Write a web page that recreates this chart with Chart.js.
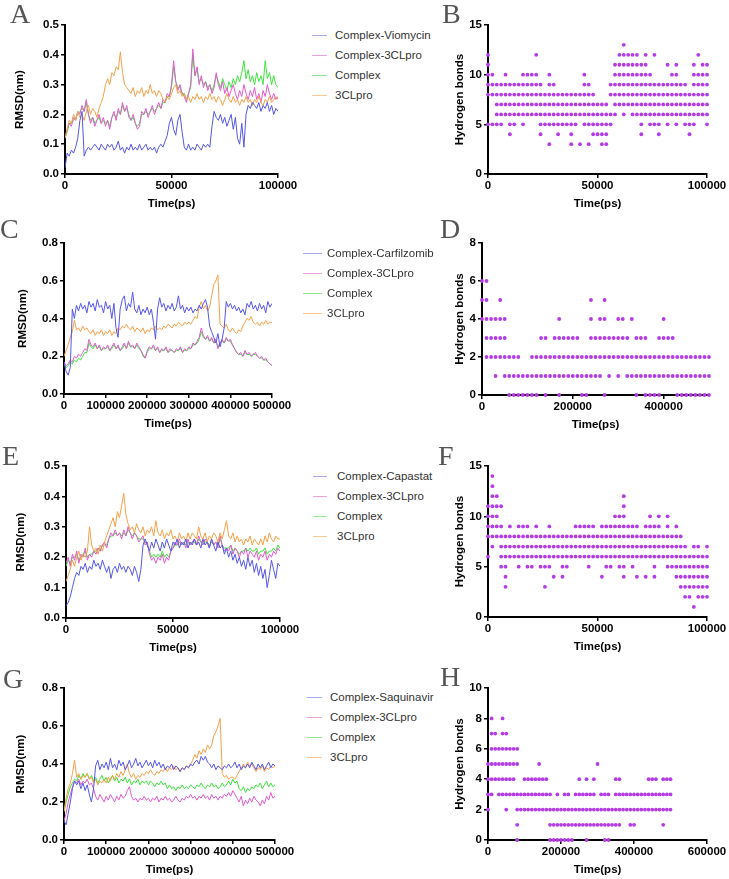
<!DOCTYPE html>
<html>
<head>
<meta charset="utf-8">
<script src="https://cdn.jsdelivr.net/npm/chart.js@4.4.1/dist/chart.umd.min.js"></script>
<style>
  body { margin: 0; background: #fff; width: 729px; height: 879px; position: relative; overflow: hidden;
         font-family: 'Liberation Sans', Arial, sans-serif; }
  canvas { position: absolute; }
  .letter { position: absolute; font-family: 'Liberation Serif', 'Times New Roman', serif; font-size: 28px;
            color: #555; line-height: 28px; }
  .leg { position: absolute; font-size: 11.5px; color: #333; line-height: 14px; white-space: nowrap; }
  .legline { position: absolute; height: 1px; }
</style>
</head>
<body>
<script>
// series names per RMSD panel
const namesA = ['Complex-Viomycin', 'Complex-3CLpro', 'Complex', '3CLpro'];
const namesC = ['Complex-Carfilzomib', 'Complex-3CLpro', 'Complex', '3CLpro'];
const namesE = ['Complex-Capastat', 'Complex-3CLpro', 'Complex', '3CLpro'];
const namesG = ['Complex-Saquinavir', 'Complex-3CLpro', 'Complex', '3CLpro'];

// RMSD (nm), panel A and E sampled every 1000 ps, panel C and G every 5000 ps
const aLig = [0.02,0.07,0.06,0.08,0.07,0.09,0.12,0.18,0.21,0.06,
  0.08,0.09,0.08,0.09,0.1,0.09,0.08,0.1,0.09,0.08,
  0.1,0.09,0.1,0.08,0.09,0.11,0.08,0.09,0.07,0.09,
  0.08,0.1,0.08,0.09,0.08,0.1,0.08,0.09,0.1,0.08,
  0.09,0.08,0.09,0.07,0.09,0.1,0.09,0.11,0.13,0.17,
  0.19,0.15,0.13,0.18,0.2,0.14,0.09,0.08,0.1,0.08,
  0.09,0.08,0.1,0.09,0.08,0.1,0.09,0.1,0.09,0.16,
  0.21,0.19,0.18,0.2,0.17,0.19,0.16,0.18,0.2,0.15,
  0.19,0.12,0.1,0.17,0.09,0.2,0.23,0.22,0.24,0.23,
  0.22,0.24,0.21,0.23,0.22,0.24,0.21,0.23,0.2,0.22,
  0.21];
const aCx3 = [0.12,0.15,0.17,0.16,0.19,0.18,0.21,0.2,0.23,0.21,
  0.25,0.2,0.17,0.19,0.16,0.18,0.2,0.17,0.19,0.16,
  0.18,0.15,0.19,0.21,0.18,0.22,0.2,0.24,0.21,0.23,
  0.19,0.18,0.2,0.17,0.15,0.16,0.21,0.2,0.22,0.19,
  0.21,0.23,0.2,0.22,0.24,0.22,0.25,0.24,0.27,0.26,
  0.3,0.38,0.31,0.28,0.3,0.27,0.26,0.24,0.27,0.3,
  0.42,0.33,0.36,0.3,0.33,0.29,0.31,0.28,0.3,0.27,
  0.29,0.34,0.3,0.28,0.31,0.27,0.29,0.26,0.28,0.3,
  0.27,0.25,0.28,0.26,0.3,0.27,0.25,0.28,0.26,0.29,
  0.25,0.27,0.24,0.28,0.26,0.3,0.27,0.25,0.27,0.25,
  0.26];
const aCx = [0.12,0.14,0.17,0.17,0.18,0.19,0.2,0.21,0.22,0.21,
  0.24,0.2,0.18,0.19,0.17,0.18,0.19,0.17,0.18,0.17,
  0.18,0.16,0.19,0.2,0.19,0.21,0.2,0.23,0.21,0.22,
  0.2,0.18,0.19,0.17,0.16,0.17,0.2,0.2,0.21,0.2,
  0.21,0.22,0.21,0.22,0.23,0.22,0.24,0.24,0.26,0.26,
  0.29,0.36,0.31,0.29,0.29,0.27,0.27,0.25,0.27,0.29,
  0.4,0.33,0.35,0.31,0.32,0.3,0.31,0.29,0.3,0.28,
  0.3,0.33,0.31,0.29,0.32,0.3,0.28,0.31,0.29,0.32,
  0.3,0.33,0.31,0.34,0.38,0.32,0.35,0.31,0.33,0.3,
  0.34,0.31,0.33,0.3,0.38,0.32,0.34,0.3,0.33,0.3,
  0.29];
const aPro = [0.12,0.15,0.18,0.17,0.2,0.18,0.21,0.19,0.2,0.18,
  0.21,0.23,0.2,0.22,0.21,0.19,0.22,0.24,0.26,0.3,
  0.32,0.3,0.34,0.33,0.36,0.35,0.41,0.34,0.3,0.29,
  0.28,0.27,0.29,0.26,0.28,0.27,0.29,0.26,0.28,0.27,
  0.3,0.27,0.28,0.26,0.28,0.27,0.25,0.24,0.26,0.25,
  0.27,0.29,0.3,0.27,0.28,0.26,0.27,0.25,0.26,0.24,
  0.26,0.25,0.27,0.25,0.26,0.24,0.26,0.25,0.27,0.25,
  0.26,0.24,0.26,0.25,0.23,0.25,0.27,0.25,0.24,0.26,
  0.24,0.25,0.23,0.25,0.24,0.26,0.24,0.25,0.23,0.25,
  0.24,0.26,0.24,0.23,0.25,0.24,0.26,0.24,0.25,0.26,
  0.25];

const cLig = [0.17,0.12,0.1,0.14,0.45,0.4,0.47,0.44,0.48,0.45,
  0.47,0.43,0.49,0.46,0.48,0.44,0.5,0.46,0.47,0.43,
  0.49,0.45,0.47,0.4,0.48,0.35,0.3,0.45,0.5,0.52,
  0.44,0.48,0.46,0.54,0.45,0.43,0.47,0.42,0.45,0.43,
  0.46,0.42,0.45,0.38,0.29,0.45,0.51,0.46,0.48,0.44,
  0.47,0.45,0.48,0.44,0.46,0.52,0.45,0.47,0.43,0.46,
  0.44,0.46,0.43,0.45,0.44,0.47,0.45,0.48,0.5,0.46,
  0.36,0.33,0.3,0.27,0.32,0.25,0.29,0.35,0.49,0.46,
  0.48,0.45,0.47,0.44,0.46,0.43,0.45,0.42,0.48,0.46,
  0.49,0.45,0.47,0.44,0.48,0.45,0.47,0.43,0.49,0.46,
  0.48];
const cCx3 = [0.17,0.15,0.16,0.18,0.17,0.2,0.19,0.21,0.2,0.22,
  0.24,0.23,0.29,0.26,0.25,0.27,0.24,0.26,0.23,0.25,
  0.24,0.26,0.23,0.25,0.27,0.24,0.26,0.23,0.25,0.27,
  0.24,0.28,0.25,0.26,0.24,0.27,0.25,0.23,0.21,0.19,
  0.23,0.25,0.24,0.26,0.23,0.25,0.22,0.24,0.23,0.25,
  0.22,0.24,0.23,0.22,0.24,0.23,0.25,0.22,0.24,0.23,
  0.25,0.24,0.27,0.26,0.28,0.3,0.35,0.31,0.29,0.31,
  0.28,0.3,0.27,0.29,0.24,0.27,0.29,0.27,0.3,0.28,
  0.29,0.26,0.24,0.22,0.21,0.22,0.2,0.23,0.21,0.22,
  0.2,0.21,0.22,0.2,0.19,0.2,0.18,0.19,0.17,0.16,
  0.15];
const cCx = [0.16,0.14,0.15,0.17,0.16,0.18,0.17,0.19,0.18,0.2,
  0.22,0.22,0.27,0.25,0.24,0.26,0.24,0.25,0.23,0.24,
  0.24,0.25,0.23,0.24,0.26,0.24,0.25,0.23,0.24,0.26,
  0.24,0.27,0.25,0.25,0.24,0.26,0.24,0.23,0.2,0.19,
  0.22,0.24,0.24,0.25,0.23,0.24,0.22,0.23,0.23,0.24,
  0.22,0.23,0.23,0.22,0.23,0.23,0.24,0.22,0.23,0.23,
  0.24,0.24,0.26,0.26,0.27,0.29,0.33,0.3,0.29,0.3,
  0.28,0.29,0.27,0.28,0.25,0.27,0.28,0.27,0.29,0.28,
  0.28,0.26,0.24,0.22,0.21,0.21,0.2,0.22,0.21,0.21,
  0.2,0.21,0.21,0.2,0.19,0.19,0.18,0.18,0.17,0.16,
  0.15];
const cPro = [0.2,0.23,0.26,0.3,0.33,0.39,0.34,0.35,0.33,0.36,
  0.34,0.35,0.33,0.32,0.34,0.31,0.33,0.32,0.34,0.31,
  0.33,0.32,0.34,0.31,0.33,0.32,0.35,0.34,0.36,0.35,
  0.37,0.35,0.34,0.36,0.33,0.35,0.34,0.33,0.35,0.32,
  0.34,0.33,0.35,0.34,0.36,0.34,0.35,0.34,0.36,0.35,
  0.37,0.36,0.35,0.37,0.36,0.38,0.37,0.36,0.38,0.37,
  0.38,0.37,0.39,0.41,0.4,0.46,0.49,0.45,0.47,0.44,
  0.46,0.52,0.58,0.6,0.63,0.37,0.36,0.35,0.37,0.34,
  0.33,0.35,0.33,0.32,0.34,0.33,0.36,0.38,0.4,0.39,
  0.41,0.38,0.37,0.38,0.36,0.38,0.37,0.39,0.37,0.38,
  0.38];

const eLig = [0.04,0.05,0.07,0.1,0.13,0.15,0.14,0.17,0.16,0.18,
  0.15,0.17,0.16,0.19,0.17,0.18,0.16,0.19,0.17,0.15,
  0.17,0.13,0.16,0.17,0.15,0.18,0.16,0.17,0.15,0.17,
  0.16,0.14,0.17,0.15,0.12,0.16,0.24,0.26,0.24,0.22,
  0.25,0.23,0.26,0.24,0.22,0.25,0.23,0.26,0.24,0.22,
  0.25,0.24,0.26,0.23,0.25,0.24,0.26,0.23,0.25,0.24,
  0.26,0.24,0.25,0.23,0.26,0.24,0.25,0.23,0.26,0.24,
  0.22,0.25,0.23,0.24,0.21,0.23,0.2,0.22,0.19,0.21,
  0.18,0.2,0.17,0.19,0.16,0.2,0.17,0.19,0.15,0.18,
  0.14,0.17,0.13,0.16,0.1,0.14,0.19,0.16,0.13,0.18,
  0.17];
const eCx3 = [0.18,0.2,0.17,0.21,0.19,0.22,0.18,0.21,0.2,0.23,
  0.19,0.21,0.2,0.22,0.21,0.23,0.22,0.24,0.25,0.23,
  0.26,0.28,0.27,0.29,0.27,0.28,0.26,0.29,0.27,0.3,
  0.28,0.26,0.28,0.27,0.25,0.26,0.27,0.24,0.25,0.21,
  0.19,0.2,0.18,0.2,0.19,0.21,0.18,0.2,0.19,0.22,
  0.23,0.25,0.24,0.26,0.24,0.25,0.23,0.26,0.24,0.25,
  0.26,0.24,0.27,0.25,0.24,0.26,0.25,0.23,0.26,0.24,
  0.25,0.23,0.27,0.24,0.22,0.23,0.22,0.24,0.21,0.23,
  0.22,0.2,0.22,0.21,0.23,0.2,0.22,0.21,0.2,0.22,
  0.19,0.21,0.2,0.22,0.19,0.21,0.2,0.22,0.21,0.23,
  0.22];
const eCx = [0.17,0.19,0.18,0.2,0.2,0.21,0.19,0.2,0.21,0.22,
  0.2,0.21,0.21,0.22,0.22,0.23,0.22,0.24,0.24,0.24,
  0.26,0.27,0.27,0.28,0.27,0.28,0.27,0.28,0.27,0.29,
  0.28,0.27,0.28,0.27,0.26,0.26,0.26,0.25,0.24,0.22,
  0.2,0.21,0.2,0.21,0.2,0.22,0.2,0.21,0.2,0.22,
  0.23,0.24,0.24,0.25,0.24,0.25,0.24,0.25,0.24,0.25,
  0.25,0.24,0.26,0.25,0.25,0.25,0.25,0.24,0.25,0.24,
  0.25,0.24,0.26,0.24,0.23,0.23,0.23,0.24,0.22,0.23,
  0.22,0.21,0.22,0.22,0.23,0.22,0.23,0.22,0.22,0.23,
  0.21,0.22,0.22,0.23,0.21,0.22,0.22,0.23,0.22,0.24,
  0.23];
const ePro = [0.12,0.14,0.16,0.19,0.17,0.2,0.22,0.19,0.21,0.2,
  0.22,0.3,0.24,0.22,0.23,0.21,0.24,0.22,0.25,0.27,
  0.29,0.31,0.33,0.3,0.35,0.33,0.37,0.41,0.34,0.31,
  0.29,0.3,0.28,0.31,0.29,0.28,0.3,0.27,0.29,0.28,
  0.3,0.27,0.32,0.28,0.27,0.29,0.26,0.28,0.27,0.29,
  0.26,0.27,0.25,0.28,0.26,0.27,0.25,0.28,0.26,0.28,
  0.27,0.26,0.3,0.27,0.26,0.28,0.25,0.27,0.26,0.28,
  0.27,0.25,0.28,0.26,0.29,0.32,0.27,0.26,0.28,0.25,
  0.27,0.25,0.26,0.24,0.26,0.25,0.27,0.24,0.26,0.25,
  0.24,0.26,0.24,0.27,0.25,0.28,0.26,0.25,0.27,0.26,
  0.26];

const gLig = [0.1,0.08,0.14,0.2,0.27,0.31,0.29,0.31,0.27,0.3,
  0.26,0.29,0.24,0.2,0.27,0.39,0.42,0.37,0.4,0.38,
  0.41,0.37,0.43,0.38,0.4,0.37,0.42,0.39,0.41,0.37,
  0.39,0.42,0.38,0.4,0.43,0.39,0.41,0.38,0.4,0.42,
  0.39,0.41,0.38,0.42,0.39,0.41,0.38,0.4,0.37,0.39,
  0.38,0.4,0.37,0.39,0.38,0.36,0.38,0.37,0.39,0.38,
  0.4,0.39,0.41,0.42,0.4,0.44,0.42,0.44,0.41,0.4,
  0.38,0.4,0.37,0.39,0.38,0.37,0.39,0.38,0.4,0.38,
  0.39,0.41,0.38,0.4,0.37,0.39,0.38,0.4,0.38,0.41,
  0.39,0.37,0.4,0.38,0.4,0.37,0.39,0.41,0.38,0.4,
  0.39];
const gCx3 = [0.1,0.14,0.2,0.24,0.28,0.31,0.3,0.32,0.29,0.31,
  0.3,0.32,0.29,0.3,0.27,0.23,0.21,0.24,0.22,0.2,
  0.23,0.21,0.24,0.22,0.2,0.23,0.21,0.24,0.22,0.23,
  0.26,0.28,0.23,0.21,0.22,0.2,0.22,0.21,0.23,0.21,
  0.22,0.2,0.22,0.21,0.23,0.2,0.22,0.21,0.23,0.21,
  0.22,0.2,0.21,0.23,0.21,0.2,0.22,0.21,0.23,0.22,
  0.24,0.22,0.23,0.21,0.23,0.22,0.24,0.22,0.23,0.21,
  0.24,0.22,0.23,0.21,0.23,0.22,0.24,0.23,0.25,0.23,
  0.26,0.24,0.22,0.2,0.23,0.18,0.21,0.19,0.22,0.2,
  0.23,0.21,0.2,0.18,0.21,0.19,0.23,0.21,0.25,0.22,
  0.23];
const gCx = [0.15,0.2,0.24,0.28,0.3,0.32,0.31,0.34,0.32,0.35,
  0.33,0.35,0.32,0.34,0.31,0.33,0.3,0.32,0.34,0.31,
  0.33,0.3,0.32,0.34,0.31,0.33,0.3,0.32,0.31,0.33,
  0.3,0.32,0.29,0.31,0.3,0.32,0.29,0.31,0.3,0.31,
  0.29,0.31,0.3,0.28,0.3,0.29,0.31,0.29,0.3,0.27,
  0.29,0.27,0.28,0.26,0.28,0.27,0.29,0.27,0.28,0.27,
  0.29,0.28,0.27,0.29,0.28,0.3,0.28,0.27,0.29,0.28,
  0.3,0.28,0.29,0.27,0.28,0.3,0.28,0.29,0.31,0.29,
  0.32,0.3,0.31,0.27,0.26,0.28,0.25,0.27,0.26,0.28,
  0.27,0.29,0.28,0.3,0.27,0.29,0.31,0.28,0.3,0.28,
  0.29];
const gPro = [0.15,0.22,0.27,0.3,0.35,0.42,0.33,0.35,0.32,0.34,
  0.33,0.35,0.32,0.33,0.3,0.32,0.29,0.31,0.3,0.32,
  0.3,0.33,0.31,0.34,0.32,0.35,0.33,0.36,0.34,0.37,
  0.4,0.35,0.33,0.35,0.32,0.34,0.33,0.35,0.34,0.36,
  0.35,0.37,0.35,0.34,0.36,0.35,0.37,0.36,0.38,0.36,
  0.38,0.37,0.39,0.37,0.38,0.36,0.38,0.37,0.39,0.38,
  0.4,0.42,0.45,0.43,0.47,0.45,0.48,0.46,0.5,0.48,
  0.5,0.55,0.57,0.6,0.64,0.35,0.33,0.34,0.32,0.33,
  0.33,0.32,0.34,0.36,0.38,0.4,0.38,0.41,0.39,0.4,
  0.38,0.36,0.38,0.37,0.39,0.36,0.38,0.37,0.39,0.38,
  0.39];

// hydrogen bond counts seen in each time window (B, F: 2000 ps windows; D, H: 10000 ps windows)
const hbB = [[5,8,9,10,11,12],[5,8,9,10],[5,6,7,8,9],[5,6,7,8,9],[6,7,8,9,10],[4,5,6,7,8,9],[5,6,7,8,9],[6,7,8,9],[5,6,7,8,9,10],[6,7,8,9,10],
  [6,7,8,9,10],[6,7,8,9,10,12],[4,5,6,7,8,9],[5,6,7,8],[3,5,6,7,8,9,10],[5,6,7,8,9],[4,5,6,7,8],[5,6,7,8],[5,6,7,8],[3,4,5,6,7,8],
  [5,6,7,8],[3,6,7,8],[5,6,7,8,9,10],[3,5,6,7,8,9],[4,5,6,7,8],[4,5,6,7],[3,4,5,6,7],[3,4,5,6,7],[5,6,8,9],[6,7,8,9,10,11],
  [7,8,9,10,11,12],[6,7,8,9,10,11,12,13],[7,8,9,10,11,12],[6,7,8,9,10,11,12],[6,7,8,9,10,11,12],[4,5,6,7,8,9,10,11],[6,7,8,9,10,11,12],[5,6,7,8,9,10],[5,6,7,8,9,12],[4,5,6,7,8,9],
  [6,7,8,9],[5,6,7,8,9,11],[6,7,8,9,10],[5,6,7,8,9,10,11],[6,7,8,9],[5,6,7,8,9],[4,5,6,7,8],[5,6,7,8,9,10,11],[6,7,8,9,10,12],[6,7,8,9,10,11],
  [5,6,7,8,9,10,11]];
const hbD = [[4,5,6],[2,3,4,5,6],[2,3,4],[1,2,3,4],[2,3,4,5],[1,2,3,4],[0,1,2],[0,1,2],[0,1,2],[0,1],
  [0,1],[0,1,2],[0,1,2],[1,2,3],[0,1,2,3],[1,2],[1,2,3],[0,1,2,3,4],[1,2,3],[1,2,3],
  [1,2,3],[1,2,3],[0,1,2],[0,1,2],[1,2,3,4,5],[1,2,3],[1,2,3,4],[0,2,3,4,5],[1,2,3],[2,3],
  [1,2,3,4],[2,3,4],[1,2,3],[1,2,4],[0,1,2,3],[1,2,3],[0,1,2,3],[0,1,2],[0,1,2],[0,1,2,3],
  [1,2,3,4],[1,2,3],[1,2,3],[0,1,2],[0,1,2],[0,1,2],[0,1,2],[0,1,2],[0,1,2],[0,1,2],
  [0,1,2]];
const hbF = [[6,8,9,10,11],[7,8,9,10,11,12,13,14],[8,9,10,11,12],[5,6,7,8,9,11],[3,4,5,6,7,8],[6,7,8,9],[6,7,8],[5,6,7,8,9],[6,7,8,9],[5,6,7,8,9],
  [5,6,7,8],[6,7,8,9],[5,6,7,8],[3,5,6,7,8],[5,6,7,8,9],[4,6,7,8],[6,7,8],[4,5,6,7,8],[5,6,7,8],[6,7,8],
  [6,7,8,9],[6,7,8,9],[6,7,8,9],[5,6,7,8,9],[6,7,8,9],[6,7,8],[4,6,7,8,9],[5,6,7,8,9],[5,6,7,8,9],[6,7,8,9,10],
  [5,6,7,8,9,10],[4,5,6,7,8,9,10,11,12],[6,7,8,9],[5,6,7,8,9],[4,6,7,8,9],[6,7,8],[4,6,7,8,9],[6,7,8,9,10],[4,5,6,7,8,9],[6,7,8,9,10],
  [6,7,8],[5,6,7,8,9,10],[5,6,7,8],[4,5,6,7,8,9],[3,4,5,6,7,8],[2,3,4,5,6,7],[2,3,4,5,6],[1,3,4,5,6,7],[2,3,4,5,6,7],[2,3,4,5,6],
  [2,3,4,5,6,7]];
const hbH = [[2,3,4,5],[3,4,5,6,7,8],[4,5,6,7],[3,4,5,6],[3,4,5,6,7,8],[2,3,4,5,6,7],[3,4,5,6],[3,4,5,6],[0,1,2,3,5,6],[2,3],
  [2,3,4],[2,3,4],[2,3,4],[2,3,4],[2,3,4,5],[2,3,4],[2,3,4],[0,1,2,3],[0,1,2],[0,1,2,3],
  [0,1,2],[0,1,2,3],[0,1,2,3],[0,1,2],[1,2,3],[1,2,3,4],[1,2,3],[0,1,2,3,4],[1,2,3],[1,2,3,4],
  [1,2,5],[1,2,3],[0,1,2,3],[0,1,2,3],[1,2],[1,2,3,4],[1,2,3,4],[2,3],[2,3],[1,2,3],
  [1,2,3],[2,3],[2,3],[2,3],[2,3,4],[2,3,4],[2,3,4],[2,3],[1,2,3,4],[2,3,4],
  [2,3,4]];

// ---- styling / layout ----
Chart.defaults.font.family = "'Liberation Sans', Arial, sans-serif";
Chart.defaults.color = '#000';
const LINE_COLORS = ['#5656e6', '#e05ccc', '#3ee23e', '#f5a04a'];
const LEGEND_COLORS = ['#a9a9ee', '#e7a3dd', '#8fe88f', '#f5c992'];
const ORDER = [0, 2, 3, 1];
const DOT = '#b33ce6';
const PAD_T = 10, PAD_R = 32, X_H = 37;
const tickFont = {size: 11.5, weight: 'bold'};

function timeGrid(n, step) { return Array.from({length: n}, (_, i) => i * step); }

function scaleOpts(o) {
  return {
    type: 'linear', min: o.min, max: o.max,
    border: {display: true, color: '#000', width: 2},
    grid: {display: true, drawOnChartArea: false, drawTicks: true, tickLength: 4, color: '#000', lineWidth: 1.5},
    ticks: {stepSize: o.step, font: tickFont, color: '#000', padding: o.isX ? 1 : 2,
            maxRotation: 0, autoSkip: false, callback: o.fmt},
    title: {display: true, text: o.title, font: tickFont, color: '#000', padding: 0},
    afterBuildTicks: o.every ? s => { s.ticks = s.ticks.filter(t => t.value % o.every === 0); } : undefined,
    afterFit: s => { if (o.isX) s.height = X_H; else s.width = o.yW; }
  };
}

function makeChart(area, yW, type, datasets, xs, ys) {
  const cv = document.createElement('canvas');
  const w = area.r - area.l + yW + PAD_R, h = area.b - area.t + PAD_T + X_H;
  cv.width = w; cv.height = h;
  cv.style.left = (area.l - yW) + 'px';
  cv.style.top = (area.t - PAD_T) + 'px';
  cv.style.width = w + 'px'; cv.style.height = h + 'px';
  document.body.appendChild(cv);
  return new Chart(cv, {
    type, data: {datasets},
    options: {
      responsive: false, animation: false,
      layout: {padding: {top: PAD_T, right: PAD_R, left: 0, bottom: 0}},
      plugins: {legend: {display: false}, tooltip: {enabled: false}},
      scales: {x: xs, y: ys}
    }
  });
}

function rmsdPanel(p) {
  const sets = p.series.map((vals, k) => ({
    label: p.names[k],
    data: vals.map((v, i) => ({x: p.times[i], y: v})),
    borderColor: LINE_COLORS[k], borderWidth: 1, pointRadius: 0, tension: 0, fill: false, order: ORDER[k]
  }));
  makeChart(p.area, p.yW, 'line', sets,
    scaleOpts({min: 0, max: p.xMax, step: p.xStep, title: 'Time(ps)', isX: true}),
    scaleOpts({min: 0, max: p.yMax, step: p.yStep, title: 'RMSD(nm)', yW: p.yW, fmt: v => v.toFixed(1)}));
  // legend
  p.names.forEach((n, k) => {
    const y = p.leg.y0 + k * 20;
    const ln = document.createElement('div');
    ln.className = 'legline';
    ln.style.cssText = `left:${p.leg.x1}px;top:${y}px;width:${p.leg.x2 - p.leg.x1}px;background:${LEGEND_COLORS[k]}`;
    document.body.appendChild(ln);
    const tx = document.createElement('div');
    tx.className = 'leg';
    tx.style.left = p.leg.tx + 'px'; tx.style.top = (y - 7) + 'px';
    tx.textContent = n;
    document.body.appendChild(tx);
  });
}

function hbPanel(p) {
  const pts = [];
  p.cols.forEach((levels, i) => levels.forEach(v => pts.push({x: p.times[i], y: v})));
  makeChart(p.area, p.yW, 'scatter',
    [{data: pts, backgroundColor: DOT, borderWidth: 0, pointRadius: 1.9, clip: false}],
    scaleOpts({min: 0, max: p.xMax, step: p.xStep, title: 'Time(ps)', isX: true, every: p.every}),
    scaleOpts({min: 0, max: p.yMax, step: p.yStep, title: 'Hydrogen bonds', yW: p.yW}));
}

rmsdPanel({area: {l: 65, r: 278, t: 25, b: 174}, yW: 52, xMax: 100000, xStep: 50000, yMax: 0.5, yStep: 0.1,
  times: timeGrid(101, 1000), series: [aLig, aCx3, aCx, aPro], names: namesA,
  leg: {x1: 312, x2: 327, tx: 335, y0: 35}});
rmsdPanel({area: {l: 64, r: 272, t: 243, b: 394}, yW: 48, xMax: 500000, xStep: 100000, yMax: 0.8, yStep: 0.2,
  times: timeGrid(101, 5000), series: [cLig, cCx3, cCx, cPro], names: namesC,
  leg: {x1: 303, x2: 322, tx: 327, y0: 253}});
rmsdPanel({area: {l: 66, r: 280, t: 466, b: 618}, yW: 52, xMax: 100000, xStep: 50000, yMax: 0.5, yStep: 0.1,
  times: timeGrid(101, 1000), series: [eLig, eCx3, eCx, ePro], names: namesE,
  leg: {x1: 313, x2: 327, tx: 337, y0: 476}});
rmsdPanel({area: {l: 64, r: 275, t: 688, b: 840}, yW: 50, xMax: 500000, xStep: 100000, yMax: 0.8, yStep: 0.2,
  times: timeGrid(101, 5000), series: [gLig, gCx3, gCx, gPro], names: namesG,
  leg: {x1: 307, x2: 322, tx: 330, y0: 697}});

hbPanel({area: {l: 488, r: 707, t: 25, b: 174}, yW: 35, xMax: 100000, xStep: 50000, yMax: 15, yStep: 5,
  times: timeGrid(51, 2000), cols: hbB});
hbPanel({area: {l: 482, r: 709, t: 243, b: 395}, yW: 29, xMax: 500000, xStep: 100000, every: 200000, yMax: 8, yStep: 2,
  times: timeGrid(51, 10000), cols: hbD});
hbPanel({area: {l: 488, r: 707, t: 466, b: 617}, yW: 35, xMax: 100000, xStep: 50000, yMax: 15, yStep: 5,
  times: timeGrid(51, 2000), cols: hbF});
hbPanel({area: {l: 488, r: 707, t: 688, b: 840}, yW: 35, xMax: 600000, xStep: 200000, yMax: 10, yStep: 2,
  times: timeGrid(51, 10000), cols: hbH});

// panel letters
[['A', 20, 15], ['B', 452, 15], ['C', 10, 230], ['D', 450, 230],
 ['E', 12, 457], ['F', 448, 457], ['G', 13, 680], ['H', 450, 678]].forEach(([t, cx, cy]) => {
  const d = document.createElement('div');
  d.className = 'letter';
  d.textContent = t;
  d.style.left = (cx - 10) + 'px';
  d.style.top = (cy - 15) + 'px';
  document.body.appendChild(d);
});
</script>
</body>
</html>
